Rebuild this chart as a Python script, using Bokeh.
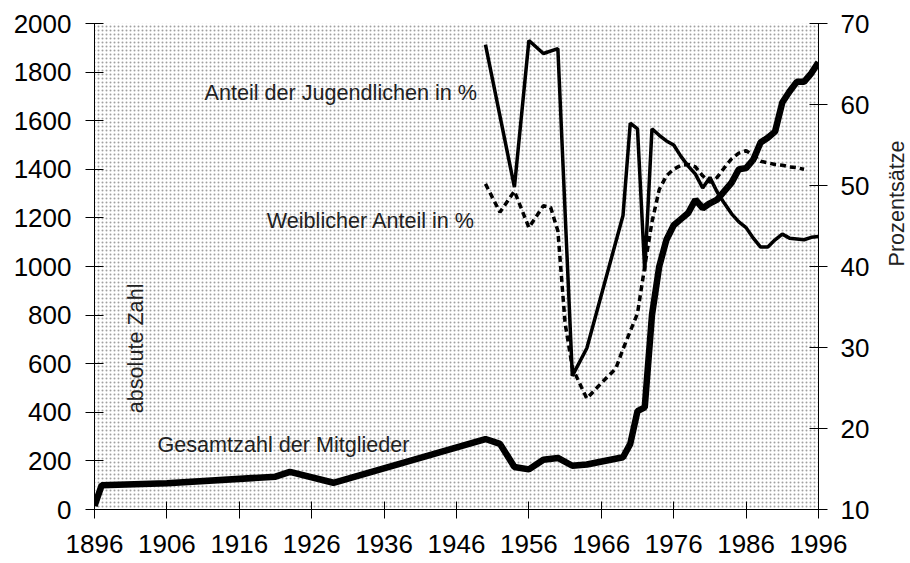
from bokeh.plotting import figure
from bokeh.models import Range1d, LinearAxis, FixedTicker, BoxAnnotation, Label
from bokeh.embed import file_html
from bokeh.resources import INLINE
import math

# ---- data ----
years_total = [1896, 1897, 1906, 1921, 1923, 1929, 1950, 1952, 1954, 1956, 1958, 1960,
               1962, 1964, 1969, 1970, 1971, 1972, 1973, 1974, 1975, 1976, 1977, 1978,
               1979, 1980, 1981, 1982, 1983, 1984, 1985, 1986, 1987, 1988, 1989, 1990,
               1991, 1992, 1993, 1994, 1995, 1996]
total = [15, 100, 108, 135, 155, 110, 290, 270, 175, 165, 205, 212,
         180, 185, 215, 270, 405, 420, 800, 1000, 1110, 1170, 1195, 1220,
         1275, 1240, 1260, 1275, 1310, 1345, 1400, 1405, 1440, 1510, 1530, 1555,
         1675, 1720, 1760, 1760, 1795, 1840]

years_youth = [1950, 1954, 1956, 1958, 1960, 1962, 1964, 1969, 1970, 1971, 1972, 1973,
               1974, 1975, 1976, 1977, 1978, 1979, 1980, 1981, 1982, 1983, 1984, 1985,
               1986, 1987, 1988, 1989, 1990, 1991, 1992, 1993, 1994, 1995, 1996]
youth = [67.4, 49.8, 67.9, 66.3, 66.9, 26.5, 29.9, 46.3, 57.7, 57.0, 39.5, 57.0,
         56.2, 55.5, 55.0, 53.6, 52.4, 51.4, 49.7, 51.0, 49.2, 47.8, 46.5, 45.5,
         44.8, 43.5, 42.4, 42.4, 43.3, 44.0, 43.5, 43.4, 43.3, 43.6, 43.7]

years_female = [1950, 1952, 1954, 1956, 1958, 1959, 1960, 1961, 1962, 1963, 1964, 1966,
                1968, 1969, 1970, 1971, 1972, 1973, 1974, 1975, 1976, 1977, 1978, 1979,
                1980, 1981, 1982, 1983, 1984, 1985, 1986, 1987, 1988, 1989, 1990, 1991,
                1992, 1993, 1994]
female = [50.2, 46.7, 49.3, 44.8, 47.5, 47.3, 44.4, 33.0, 27.5, 25.6, 23.7, 25.6,
          27.4, 29.8, 32.0, 34.2, 40.0, 45.5, 49.5, 51.2, 52.0, 52.5, 52.6, 52.3,
          51.2, 50.4, 51.0, 52.2, 53.3, 54.0, 54.3, 53.7, 53.0, 52.8, 52.6, 52.5,
          52.3, 52.2, 52.0]

x_ticks = list(range(1896, 1997, 10))
left_ticks = list(range(0, 2001, 200))
right_ticks = list(range(10, 71, 10))

FONT = "Liberation Sans"

p = figure(frame_width=724, frame_height=486, output_backend="svg",
           toolbar_location=None, title=None,
           x_range=Range1d(1896, 1996), y_range=Range1d(0, 2000),
           min_border_left=94, min_border_top=23, min_border_right=0,
           min_border_bottom=54)
p.extra_y_ranges = {"pct": Range1d(10, 70)}
p.grid.visible = False
p.outline_line_color = None
p.background_fill_color = "white"
p.border_fill_color = "white"

bg = BoxAnnotation(fill_color="white", fill_alpha=1.0, line_color=None,
                   hatch_pattern="dot", hatch_color="#a0a0a0", hatch_scale=4,
                   hatch_weight=1.5, level="underlay")
p.add_layout(bg)

right_axis = LinearAxis(y_range_name="pct")
p.add_layout(right_axis, "right")

p.xaxis.ticker = FixedTicker(ticks=x_ticks)
p.yaxis[0].ticker = FixedTicker(ticks=left_ticks)
right_axis.ticker = FixedTicker(ticks=right_ticks)

for ax in [p.xaxis[0], p.yaxis[0], right_axis]:
    ax.major_tick_in = 9
    ax.major_tick_out = 9
    ax.minor_tick_in = 0
    ax.minor_tick_out = 0
    ax.axis_line_color = "black"
    ax.major_tick_line_color = "black"
    ax.major_label_text_font = FONT
    ax.major_label_text_font_size = "26px"
    ax.major_label_text_color = "black"
p.xaxis[0].major_tick_in = 8
p.xaxis[0].major_label_standoff = 16
p.yaxis[0].major_label_standoff = 14
right_axis.major_label_standoff = 13

# hidden axis that only carries the right-hand title
title_axis = LinearAxis(y_range_name="pct", ticker=FixedTicker(ticks=[]))
title_axis.axis_line_color = None
title_axis.major_tick_in = 0
title_axis.major_tick_out = 0
title_axis.minor_tick_in = 0
title_axis.minor_tick_out = 0
title_axis.major_label_standoff = 0
title_axis.axis_label = "Prozentsätze"
title_axis.axis_label_text_font = FONT
title_axis.axis_label_text_font_size = "21.6px"
title_axis.axis_label_text_font_style = "normal"
title_axis.axis_label_text_color = "#222222"
title_axis.axis_label_standoff = 24
if "axis_label_orientation" in title_axis.properties():
    title_axis.axis_label_orientation = math.pi / 2
p.add_layout(title_axis, "right")

# ---- lines ----
p.line(years_total, total, line_width=6.5, line_color="black")
p.line(years_youth, youth, y_range_name="pct", line_width=3.5, line_color="black")
p.line(years_female, female, y_range_name="pct", line_width=3.5, line_color="black",
       line_dash="6 4")

# ---- texts ----
def lab(x, y, t, angle=0.0, align="left"):
    p.add_layout(Label(x=x, y=y, text=t, angle=angle, text_align=align,
                       text_baseline="alphabetic", text_font=FONT,
                       text_font_size="21.6px", text_color="#222222"))

lab(1911.2, 1716, "Anteil der Jugendlichen in %")
lab(1919.8, 1189, "Weiblicher Anteil in %")
lab(1904.7, 268, "Gesamtzahl der Mitglieder")
lab(1901.6, 663, "absolute Zahl", angle=math.pi / 2, align="center")

html = file_html(p, INLINE)
html = html.replace("<head>", "<head><style>html,body{overflow:hidden;margin:0}</style>", 1)
open("out.html", "w").write(html)
